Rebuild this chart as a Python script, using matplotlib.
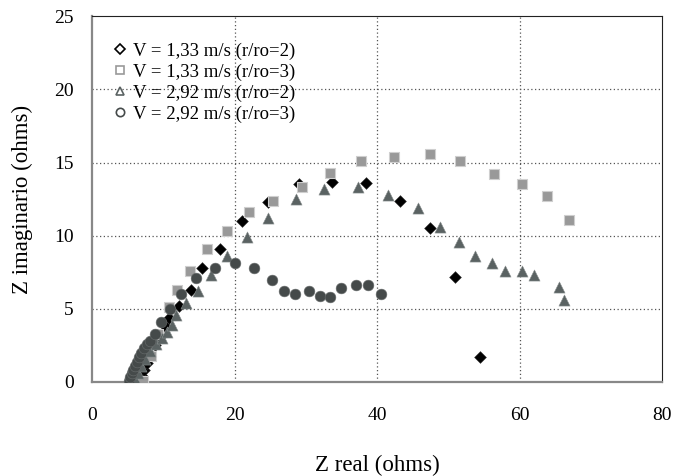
import numpy as np
import matplotlib.pyplot as plt
from matplotlib.lines import Line2D

# V = 1,33 m/s (r/ro=2)
x_v133_r2 = [6.8, 7.0, 7.3, 7.7, 8.2, 8.8, 9.5, 10.2, 10.85, 12.25, 13.9, 15.5, 18.0, 21.0,
             24.7, 29.0, 33.7, 38.4, 43.2, 47.5, 51.0, 54.5]
y_v133_r2 = [0.0, 0.4, 0.8, 1.3, 1.9, 2.5, 3.1, 3.8, 4.4, 5.2, 6.3, 7.8, 9.1, 11.0,
             12.3, 13.5, 13.7, 13.6, 12.4, 10.5, 7.2, 1.7]

# V = 1,33 m/s (r/ro=3)
x_v133_r3 = [7.2, 8.3, 9.3, 10.75, 11.9, 13.8, 16.1, 18.9, 22.0, 25.4, 29.5, 33.4,
             37.8, 42.4, 47.5, 51.7, 56.4, 60.3, 63.8, 67.0]
y_v133_r3 = [0.1, 1.8, 3.3, 5.1, 6.3, 7.6, 9.1, 10.3, 11.6, 12.4, 13.3, 14.3,
             15.1, 15.4, 15.6, 15.1, 14.2, 13.5, 12.7, 11.1]

# V = 2,92 m/s (r/ro=2)
x_v292_r2 = [6.0, 6.4, 6.9, 7.5, 8.2, 9.0, 9.8, 10.5, 11.2, 11.8, 13.2, 14.9, 16.7, 19.0,
             21.7, 24.7, 28.6, 32.6, 37.4, 41.6, 45.7, 48.8, 51.5, 53.7, 56.1, 57.9,
             60.4, 62.0, 65.5, 66.3]
y_v292_r2 = [0.2, 0.6, 1.1, 1.6, 2.1, 2.6, 3.0, 3.4, 3.9, 4.6, 5.4, 6.2, 7.3, 8.6,
             9.9, 11.2, 12.5, 13.2, 13.3, 12.8, 11.9, 10.6, 9.6, 8.6, 8.1, 7.6,
             7.6, 7.3, 6.5, 5.6]

# V = 2,92 m/s (r/ro=3)
x_v292_r3 = [5.2, 5.4, 5.6, 5.8, 6.0, 6.3, 6.6, 6.9, 7.3, 7.7, 8.2, 8.9, 9.7, 11.0, 12.5,
             14.6, 17.3, 20.1, 22.8, 25.2, 26.9, 28.5, 30.5, 32.0, 33.4, 35.0, 37.1,
             38.7, 40.5]
y_v292_r3 = [0.1, 0.35, 0.6, 0.85, 1.1, 1.4, 1.7, 2.0, 2.3, 2.6, 2.8, 3.3, 4.1, 5.0, 6.0,
             7.1, 7.8, 8.1, 7.8, 7.0, 6.2, 6.0, 6.2, 5.9, 5.8, 6.4, 6.6,
             6.6, 6.0]

labels = ["V = 1,33 m/s (r/ro=2)", "V = 1,33 m/s (r/ro=3)",
          "V = 2,92 m/s (r/ro=2)", "V = 2,92 m/s (r/ro=3)"]
colors = ["#000000", "#999999", "#5a6262", "#454a4a"]
markers = ["D", "s", "^", "o"]

plt.rcParams['font.family'] = ['Liberation Serif', 'DejaVu Serif']

fig = plt.figure(figsize=(6.73, 4.76), dpi=100)
ax = fig.add_axes([0.1367, 0.1975, 0.8470, 0.7685])

ax.scatter(x_v133_r2, y_v133_r2, marker="D", s=36, color=colors[0], edgecolors="#333333",
           linewidths=0.4, zorder=3)
ax.scatter(x_v133_r3, y_v133_r3, marker="s", s=54, color=colors[1], edgecolors="#cfcfcf",
           linewidths=0.8, zorder=4)
ax.scatter(x_v292_r2, y_v292_r2, marker="^", s=64, color=colors[2], edgecolors="#8a9090",
           linewidths=0.4, zorder=5)
ax.scatter(x_v292_r3, y_v292_r3, marker="o", s=60, color=colors[3], edgecolors="#6a6e6e",
           linewidths=0.4, zorder=6)

ax.set_xlim(0, 80)
ax.set_ylim(0, 25)
ax.set_xticks([0, 20, 40, 60, 80])
ax.set_yticks([0, 5, 10, 15, 20, 25])
for v in [20, 40, 60]:
    ax.axvline(v, color="#555555", linestyle=(0, (1, 2)), linewidth=0.9, zorder=1)
for v in [5, 10, 15, 20]:
    ax.axhline(v, color="#555555", linestyle=(0, (1, 2)), linewidth=0.9, zorder=1)

ax.tick_params(length=0, labelsize=14)
ax.tick_params(axis="x", pad=18)
ax.tick_params(axis="y", pad=13)
ax.spines["left"].set_color("#888888")
ax.spines["bottom"].set_color("#888888")
ax.spines["left"].set_linewidth(1.6)
ax.spines["bottom"].set_linewidth(1.6)
ax.spines["top"].set_color("#222222")
ax.spines["right"].set_color("#222222")

ax.set_xlabel("Z real (ohms)", fontsize=16.5, labelpad=22)
ax.set_ylabel("Z imaginario (ohms)", fontsize=16.5, labelpad=15)

handles = [Line2D([], [], linestyle="none", marker=m, markersize=ms, markerfacecolor="white",
                  markeredgecolor=c, markeredgewidth=1.2)
           for m, c, ms in zip(markers, ["#000000", "#999999", "#5a6262", "#454a4a"],
                               [5, 6, 6, 6])]
leg = ax.legend(handles, labels, loc="upper left", bbox_to_anchor=(0.0, 0.975),
                frameon=False, fontsize=13.5, handletextpad=0.1, labelspacing=0.2,
                handlelength=1.2, borderaxespad=0.5)
leg.set_zorder(10)

fig.savefig("out.png", dpi=100)
